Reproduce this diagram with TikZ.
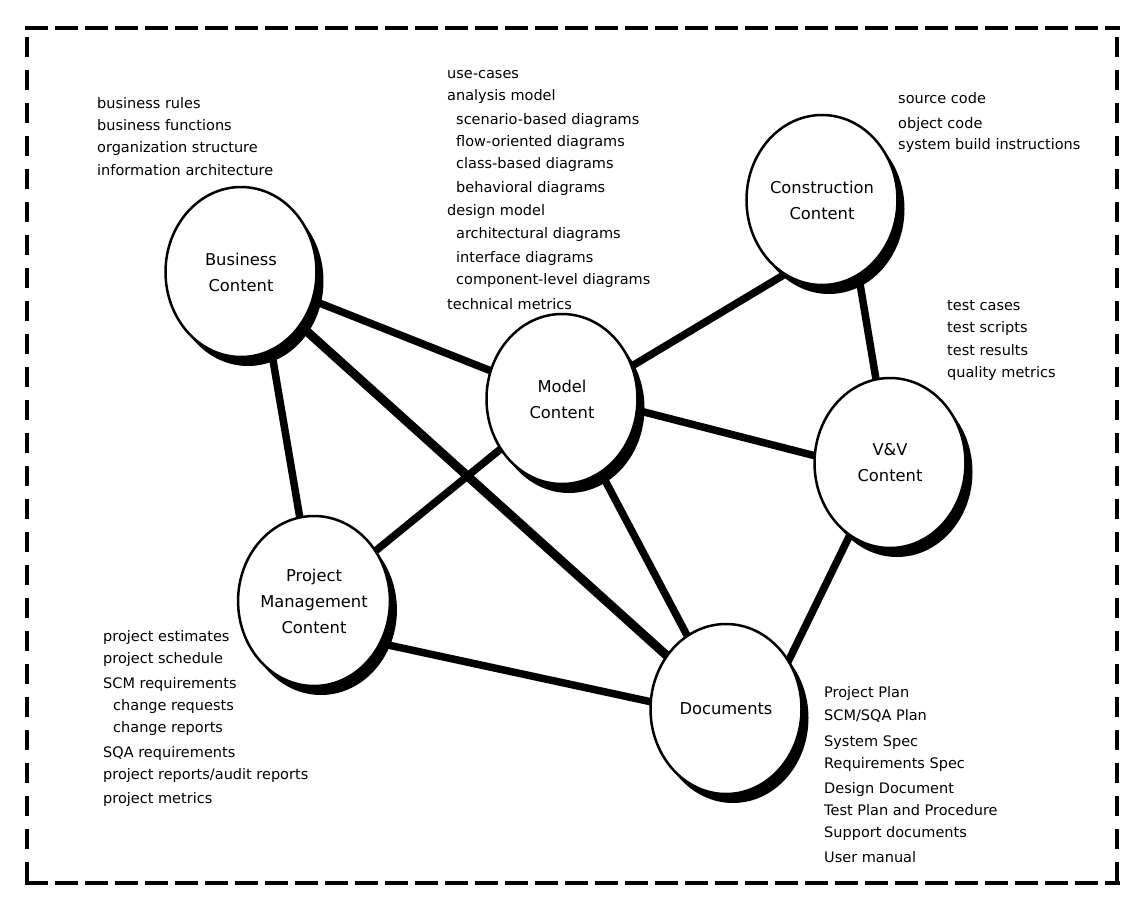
\documentclass[tikz,border=0pt]{standalone}
\usepackage{fontspec}
\setmainfont{DejaVu Sans}
\usetikzlibrary{shapes.geometric,shadows,backgrounds}
\begin{document}
\begin{tikzpicture}[x=1pt,y=-1pt,
  content/.style={ellipse, draw, line width=2.5pt, fill=white,
    minimum width=151pt, minimum height=170pt, inner sep=0pt, align=center,
    font=\fontsize{16.3}{26}\selectfont,
    drop shadow={shadow xshift=7pt, shadow yshift=-9pt, fill=black, opacity=1}},
  link/.style={line width=7.5pt},
  item/.style={anchor=base west, inner sep=0pt, font=\fontsize{14.5}{17}\selectfont},
  border/.style={line width=4.5pt}]
\useasboundingbox (0,0) rectangle (1144,910);

% dashed frame
\draw[border, dash pattern=on 23pt off 7pt] (25,28) -- (1120,28);
\draw[border, dash pattern=on 23pt off 7pt] (25,883) -- (1120,883);
\draw[border, dash pattern=on 20pt off 13pt] (27,37) -- (27,884);
\draw[border, dash pattern=on 20pt off 13pt] (1117,37) -- (1117,884);

% content circles
\node[content] (biz)   at (241,272) {Business\\Content};
\node[content] (model) at (562,399) {Model\\Content};
\node[content] (cons)  at (822,200) {Construction\\Content};
\node[content] (vv)    at (890,463) {V\&V\\Content};
\node[content] (pm)    at (314,601) {Project\\Management\\Content};
\node[content] (doc)   at (726,709) {Documents};

% connectors
\begin{pgfonlayer}{background}
\draw[link] (biz.center) -- (model.center);
\draw[link, line width=9pt] (biz.center) -- (doc.center);
\draw[link] ([xshift=17pt]biz.center) -- (pm.center);
\draw[link] (pm.center) -- (model.center);
\draw[link] ([yshift=-28pt]pm.center) -- ([yshift=-9pt]doc.center);
\draw[link] ([yshift=-9pt]model.center) -- ([yshift=-52pt]cons.center);
\draw[link] ([yshift=8pt]model.center) -- ([yshift=-12pt]vv.center);
\draw[link] (model.center) -- (doc.center);
\draw[link] ([xshift=24pt]cons.center) -- (vv.center);
\draw[link] ([xshift=-5pt]vv.center) -- ([xshift=39pt]doc.center);
\end{pgfonlayer}

% business list
\node[item] (b1) at (97,108) {business rules};
\node[item] (b2) at (97,130) {business functions};
\node[item] (b3) at (97,152) {organization structure};
\node[item] (b4) at (97,175) {information architecture};

% model list
\node[item] (m1)  at (447,78)  {use-cases};
\node[item] (m2)  at (447,100) {analysis model};
\node[item] (m3)  at (456,124) {scenario-based diagrams};
\node[item] (m4)  at (456,146) {flow-oriented diagrams};
\node[item] (m5)  at (456,168) {class-based diagrams};
\node[item] (m6)  at (456,192) {behavioral diagrams};
\node[item] (m7)  at (447,215) {design model};
\node[item] (m8)  at (456,238) {architectural diagrams};
\node[item] (m9)  at (456,262) {interface diagrams};
\node[item] (m10) at (456,284) {component-level diagrams};
\node[item] (m11) at (447,309) {technical metrics};

% construction list
\node[item] (c1) at (898,103) {source code};
\node[item] (c2) at (898,128) {object code};
\node[item] (c3) at (898,149) {system build instructions};

% V&V list
\node[item] (v1) at (947,310) {test cases};
\node[item] (v2) at (947,332) {test scripts};
\node[item] (v3) at (947,355) {test results};
\node[item] (v4) at (947,377) {quality metrics};

% project management list
\node[item] (p1) at (103,641) {project estimates};
\node[item] (p2) at (103,663) {project schedule};
\node[item] (p3) at (103,688) {SCM requirements};
\node[item] (p4) at (113,710) {change requests};
\node[item] (p5) at (113,732) {change reports};
\node[item] (p6) at (103,757) {SQA requirements};
\node[item] (p7) at (103,779) {project reports/audit reports};
\node[item] (p8) at (103,803) {project metrics};

% documents list
\node[item] (d1) at (824,697) {Project Plan};
\node[item] (d2) at (824,720) {SCM/SQA Plan};
\node[item] (d3) at (824,746) {System Spec};
\node[item] (d4) at (824,768) {Requirements Spec};
\node[item] (d5) at (824,793) {Design Document};
\node[item] (d6) at (824,815) {Test Plan and Procedure};
\node[item] (d7) at (824,837) {Support documents};
\node[item] (d8) at (824,862) {User manual};
\end{tikzpicture}
\end{document}
